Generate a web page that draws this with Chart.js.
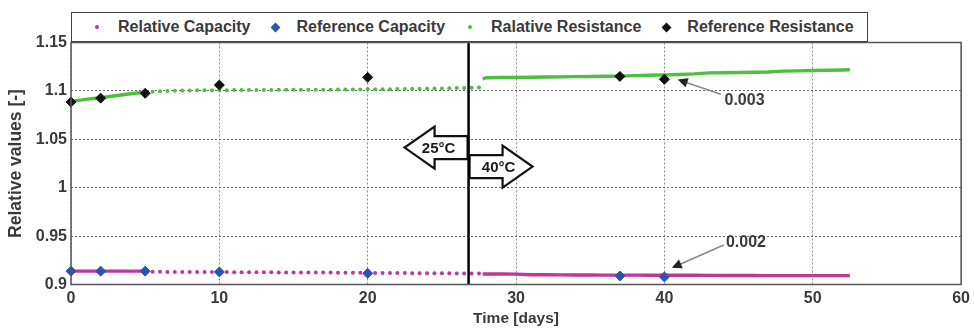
<!DOCTYPE html>
<html>
<head>
<meta charset="utf-8">
<title>Relative values over time</title>
<script src="https://cdn.jsdelivr.net/npm/chart.js@4.4.1/dist/chart.umd.min.js"></script>
<style>
  html, body { margin: 0; padding: 0; background: #fff; }
  #wrap { position: relative; width: 974px; height: 332px; font-family: "Liberation Sans", Arial, sans-serif; }
  #legend {
    position: absolute; left: 71px; top: 12px; width: 797px; height: 30px;
    box-sizing: border-box; border: 1px solid #444; background: #fff;
    display: flex; align-items: center; padding-left: 17px; gap: 17px;
    font-size: 16px; font-weight: bold; color: #3a3a3a;
  }
  .item { display: flex; align-items: center; gap: 13px; white-space: nowrap; }
  .mk { width: 16px; height: 16px; display: flex; align-items: center; justify-content: center; }
  .mk .dot { width: 4px; height: 4px; border-radius: 50%; }
  .mk .dia { width: 7px; height: 7px; transform: rotate(45deg); }
</style>
</head>
<body>
<div id="wrap">
  <canvas id="chart" width="974" height="332"></canvas>
  <div id="legend"></div>
</div>
<script>
// 25°C phase, half-day samples
const days25 = [0, 0.5, 1, 1.5, 2, 2.5, 3, 3.5, 4, 4.5, 5, 5.5, 6, 6.5, 7, 7.5, 8, 8.5, 9, 9.5,
  10, 10.5, 11, 11.5, 12, 12.5, 13, 13.5, 14, 14.5, 15, 15.5, 16, 16.5, 17, 17.5, 18, 18.5, 19, 19.5,
  20, 20.5, 21, 21.5, 22, 22.5, 23, 23.5, 24, 24.5, 25, 25.5, 26, 26.5, 27, 27.5];
const relResistance25 = [1.0890, 1.0902, 1.0912, 1.0921, 1.0930, 1.0940, 1.0950, 1.0960, 1.0970, 1.0978, 1.0986,
  1.0992, 1.0996, 1.0999, 1.1002, 1.1004, 1.1005, 1.1006, 1.1007, 1.1007, 1.1008,
  1.1008, 1.1009, 1.1009, 1.1009, 1.1010, 1.1010, 1.1010, 1.1011, 1.1011, 1.1011,
  1.1012, 1.1012, 1.1012, 1.1013, 1.1013, 1.1014, 1.1014, 1.1015, 1.1015, 1.1016,
  1.1017, 1.1017, 1.1018, 1.1019, 1.1020, 1.1021, 1.1022, 1.1023, 1.1024, 1.1026,
  1.1027, 1.1029, 1.1031, 1.1033, 1.1035];
const relCapacity25 = [0.9138, 0.9138, 0.9138, 0.9138, 0.9138, 0.9138, 0.9138, 0.9138, 0.9138, 0.9138, 0.9138,
  0.9131, 0.9131, 0.9130, 0.9130, 0.9130, 0.9129, 0.9129, 0.9129, 0.9128, 0.9128,
  0.9128, 0.9127, 0.9127, 0.9127, 0.9126, 0.9126, 0.9126, 0.9125, 0.9125, 0.9125,
  0.9124, 0.9124, 0.9123, 0.9123, 0.9123, 0.9122, 0.9122, 0.9121, 0.9121, 0.9120,
  0.9120, 0.9119, 0.9119, 0.9118, 0.9118, 0.9117, 0.9117, 0.9116, 0.9116, 0.9115,
  0.9115, 0.9114, 0.9114, 0.9113, 0.9113];

// 40°C phase
const days40 = [27.75, 28, 29, 30, 31, 32, 33, 34, 35, 36, 37, 38, 39, 40, 41, 42, 43, 44, 45, 46,
  47, 48, 49, 50, 51, 52, 52.5];
const relResistance40 = [1.1125, 1.1136, 1.1138, 1.1140, 1.1141, 1.1143, 1.1145, 1.1147, 1.1149, 1.1151,
  1.1153, 1.1158, 1.1162, 1.1166, 1.1170, 1.1176, 1.1186, 1.1188, 1.1190, 1.1193,
  1.1196, 1.1204, 1.1207, 1.1210, 1.1213, 1.1216, 1.1218];
const relCapacity40 = [0.9108, 0.9108, 0.9108, 0.9107, 0.9100, 0.9100, 0.9099, 0.9098, 0.9098, 0.9097,
  0.9097, 0.9097, 0.9096, 0.9096, 0.9096, 0.9096, 0.9094, 0.9093, 0.9093, 0.9093,
  0.9092, 0.9092, 0.9092, 0.9092, 0.9092, 0.9092, 0.9092];

// check-up measurements
const refDays = [0, 2, 5, 10, 20, 37, 40];
const refResistance = [1.0885, 1.0925, 1.0975, 1.1060, 1.1140, 1.1150, 1.1120];
const refCapacity = [0.9138, 0.9138, 0.9138, 0.9130, 0.9115, 0.9088, 0.9078];

const xTicks = [0, 10, 20, 30, 40, 50, 60];
const xTickLabels = ["0", "10", "20", "30", "40", "50", "60"];
const yTicks = [0.9, 0.95, 1, 1.05, 1.1, 1.15];
const yTickLabels = ["0.9", "0.95", "1", "1.05", "1.1", "1.15"];

const phaseChangeDay = 26.8;
const dottedFrom = 5;

const COLORS = {
  relCap: "#c2369c",
  refCap: "#2a54b4",
  relRes: "#4dbf3f",
  refRes: "#111111",
  text: "#3a3a3a",
  gridY: "#666666",
  gridX: "#8c8c8c",
};

function toPoints(xs, ys) {
  return xs.map((x, i) => ({ x, y: ys[i] }));
}

function isDotted(x) {
  return x >= dottedFrom && x < days40[0];
}

function relativeDataset(label, color, pts) {
  return {
    label,
    data: pts,
    showLine: true,
    borderColor: color,
    backgroundColor: color,
    borderWidth: 3.4,
    pointBorderWidth: 0,
    pointRadius: (c) => (c.raw && c.raw.x > dottedFrom && c.raw.x < days40[0] ? 2 : 0),
    pointHoverRadius: 0,
    segment: {
      borderColor: (c) => (isDotted(c.p0.parsed.x) ? "rgba(0,0,0,0)" : color),
    },
    order: 2,
    _marker: "dot",
  };
}

function referenceDataset(label, color, pts) {
  return {
    label,
    data: pts,
    showLine: false,
    pointStyle: "rectRot",
    pointRadius: 5,
    borderWidth: 1,
    borderColor: color,
    backgroundColor: color,
    clip: false,
    order: 1,
    _marker: "dia",
  };
}

const datasets = [
  relativeDataset("Relative Capacity", COLORS.relCap,
    toPoints(days25, relCapacity25).concat(toPoints(days40, relCapacity40))),
  referenceDataset("Reference Capacity", COLORS.refCap, toPoints(refDays, refCapacity)),
  relativeDataset("Ralative Resistance", COLORS.relRes,
    toPoints(days25, relResistance25).concat(toPoints(days40, relResistance40))),
  referenceDataset("Reference Resistance", COLORS.refRes, toPoints(refDays, refResistance)),
];

function blockArrow(ctx, baseX, cy, dir, text) {
  const bodyLen = 33, headLen = 30, bodyHalf = 11.5, headHalf = 21;
  const neck = baseX + dir * bodyLen;
  const tip = baseX + dir * (bodyLen + headLen);
  ctx.beginPath();
  ctx.moveTo(baseX, cy - bodyHalf);
  ctx.lineTo(neck, cy - bodyHalf);
  ctx.lineTo(neck, cy - headHalf);
  ctx.lineTo(tip, cy);
  ctx.lineTo(neck, cy + headHalf);
  ctx.lineTo(neck, cy + bodyHalf);
  ctx.lineTo(baseX, cy + bodyHalf);
  ctx.closePath();
  ctx.fillStyle = "#fff";
  ctx.fill();
  ctx.lineWidth = 2.2;
  ctx.strokeStyle = "#111";
  ctx.stroke();
  ctx.fillStyle = "#1a1a1a";
  ctx.font = "bold 15px 'Liberation Sans', Arial, sans-serif";
  ctx.textAlign = "center";
  ctx.textBaseline = "middle";
  ctx.fillText(text, baseX + dir * 29, cy + 1);
}

function pointerLabel(ctx, x, y, label, tail, tip) {
  const tx = x.getPixelForValue(tail[0]), ty = y.getPixelForValue(tail[1]);
  const px = x.getPixelForValue(tip[0]), py = y.getPixelForValue(tip[1]);
  const ang = Math.atan2(py - ty, px - tx);
  ctx.strokeStyle = "#8a8a8a";
  ctx.lineWidth = 1.6;
  ctx.beginPath();
  ctx.moveTo(tx, ty);
  ctx.lineTo(px - Math.cos(ang) * 6, py - Math.sin(ang) * 6);
  ctx.stroke();
  ctx.fillStyle = "#222";
  ctx.beginPath();
  ctx.moveTo(px, py);
  ctx.lineTo(px - Math.cos(ang - 0.45) * 11, py - Math.sin(ang - 0.45) * 11);
  ctx.lineTo(px - Math.cos(ang + 0.45) * 11, py - Math.sin(ang + 0.45) * 11);
  ctx.closePath();
  ctx.fill();
  ctx.fillStyle = COLORS.text;
  ctx.font = "bold 16px 'Liberation Sans', Arial, sans-serif";
  ctx.textAlign = "center";
  ctx.textBaseline = "middle";
  ctx.fillText(label.text, x.getPixelForValue(label.at[0]), y.getPixelForValue(label.at[1]));
}

const overlays = {
  id: "overlays",
  afterDatasetsDraw(chart) {
    const { ctx, chartArea: a, scales: { x, y } } = chart;
    ctx.save();
    const xl = x.getPixelForValue(phaseChangeDay);
    blockArrow(ctx, xl - 1, y.getPixelForValue(1.0414), -1, "25°C");
    blockArrow(ctx, xl + 1, y.getPixelForValue(1.0218), 1, "40°C");

    ctx.strokeStyle = "#000";
    ctx.lineWidth = 2.5;
    ctx.beginPath();
    ctx.moveTo(xl, a.top);
    ctx.lineTo(xl, a.bottom);
    ctx.stroke();

    pointerLabel(ctx, x, y, { text: "0.003", at: [45.4, 1.0905] }, [43.8, 1.0965], [40.9, 1.1118]);
    pointerLabel(ctx, x, y, { text: "0.002", at: [45.5, 0.9429] }, [44.0, 0.9408], [40.5, 0.9172]);

    ctx.strokeStyle = "#555";
    ctx.lineWidth = 1.5;
    ctx.strokeRect(a.left, a.top, a.width, a.height);
    ctx.restore();
  },
};

const fontFamily = "'Liberation Sans', Arial, sans-serif";
const tickFont = { family: fontFamily, size: 16, weight: "bold" };

const chart = new Chart(document.getElementById("chart"), {
  type: "scatter",
  data: { datasets },
  options: {
    responsive: false,
    animation: false,
    events: [],
    layout: { padding: { top: 42.5, right: 12, bottom: 0, left: 0 } },
    plugins: { legend: { display: false }, tooltip: { enabled: false } },
    scales: {
      x: {
        type: "linear",
        min: 0,
        max: 60,
        afterBuildTicks: (s) => { s.ticks = xTicks.map((v) => ({ value: v })); },
        afterFit: (s) => { s.height = 47.5; },
        ticks: { callback: (v, i) => xTickLabels[i], color: COLORS.text, font: tickFont, padding: 4, maxRotation: 0 },
        grid: { color: COLORS.gridX, lineWidth: 1, drawTicks: false },
        border: { display: false, dash: [2, 2] },
        title: { display: true, text: "Time [days]", color: COLORS.text, font: { family: fontFamily, size: 15.5, weight: "bold" }, padding: { top: 4, bottom: 4 } },
      },
      y: {
        type: "linear",
        min: 0.9,
        max: 1.15,
        afterBuildTicks: (s) => { s.ticks = yTicks.map((v) => ({ value: v })); },
        afterFit: (s) => { s.width = 71; },
        ticks: { callback: (v, i) => yTickLabels[i], color: COLORS.text, font: tickFont, padding: 4 },
        grid: { color: COLORS.gridY, lineWidth: 1, drawTicks: false },
        border: { display: false, dash: [2, 2] },
        title: { display: true, text: "Relative values [-]", color: COLORS.text, font: { family: fontFamily, size: 17.5, weight: "bold" }, padding: { top: 6, bottom: 0 } },
      },
    },
  },
  plugins: [overlays],
});

document.getElementById("legend").innerHTML = chart.data.datasets
  .map((d) => `<div class="item"><span class="mk"><span class="${d._marker}" style="background:${d.borderColor}"></span></span><span>${d.label}</span></div>`)
  .join("");
</script>
</body>
</html>
